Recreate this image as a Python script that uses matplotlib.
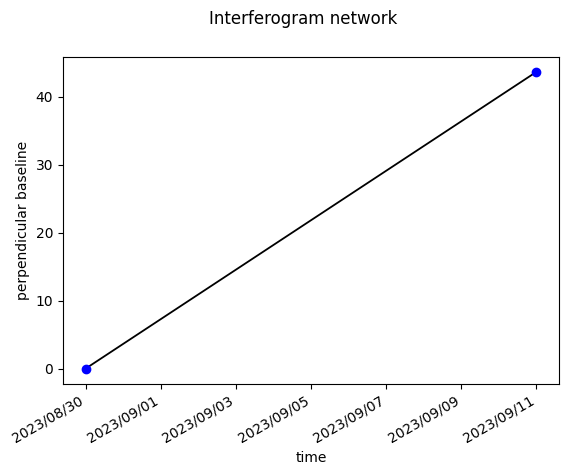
import matplotlib
matplotlib.use("Agg")
import matplotlib.pyplot as plt
import matplotlib.dates as mdates
import numpy as np
from datetime import datetime

dates = ["2023-08-30", "2023-09-11"]
bperp = [0.0, 43.7]
pairs = [(0, 1)]
tick_dates = ["2023-08-30", "2023-09-01", "2023-09-03", "2023-09-05",
              "2023-09-07", "2023-09-09", "2023-09-11"]

d = [datetime.strptime(s, "%Y-%m-%d") for s in dates]
td = [datetime.strptime(s, "%Y-%m-%d") for s in tick_dates]

fig = plt.figure(figsize=(5.72, 4.75), dpi=100)
ax = fig.add_axes([63/572, 1-383.5/475, 496/572, 326.5/475])
for i, j in pairs:
    ax.plot([d[i], d[j]], [bperp[i], bperp[j]], color="black", linewidth=1.3)
ax.plot(d, bperp, "bo")
ax.set_xticks(td)
ax.xaxis.set_major_formatter(mdates.DateFormatter("%Y/%m/%d"))
for lab in ax.get_xticklabels():
    lab.set_rotation(30)
    lab.set_ha("right")
ax.set_xlabel("time")
ax.set_ylabel("perpendicular baseline")
fig.suptitle("Interferogram network", x=303/572)
fig.savefig("out.png", dpi=100)
